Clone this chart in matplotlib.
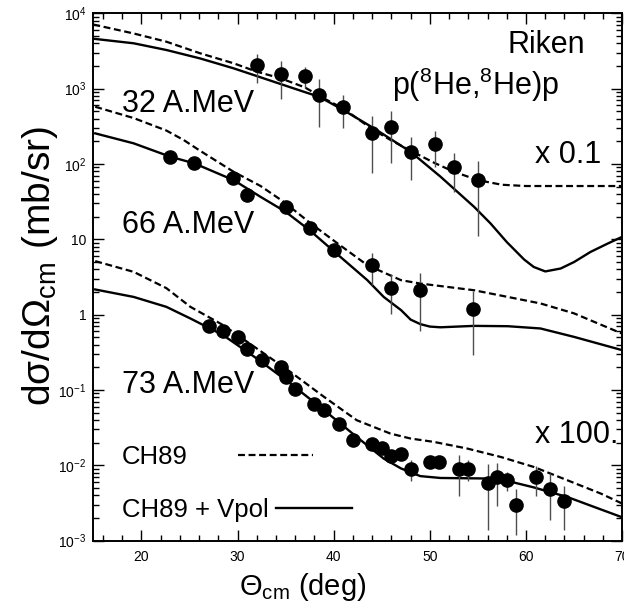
import matplotlib
matplotlib.use('Agg')
import matplotlib.pyplot as plt
from matplotlib.ticker import LogLocator, MultipleLocator, FuncFormatter, NullFormatter
import numpy as np

plt.rcParams['font.family'] = ['Liberation Sans', 'DejaVu Sans']
plt.rcParams['lines.scale_dashes'] = False

# measured points (values as drawn: 32 A.MeV x 0.1, 73 A.MeV x 100)
ang32 = [32.0, 34.5, 37.0, 38.5, 41.0, 44.0, 46.0, 48.0, 50.5, 52.5, 55.0]
xs32 = [2050, 1550, 1470, 820, 565, 255, 306, 143, 184, 92, 61]
err32 = [860, 810, 450, 510, 260, 180, 204, 82, 92, 50, 50]

ang66 = [23.0, 25.5, 29.5, 31.0, 35.0, 37.5, 40.0, 44.0, 46.0, 49.0, 54.5]
xs66 = [124, 102, 66, 38.6, 26.5, 14.2, 7.2, 4.5, 2.23, 2.11, 1.19]
err66 = [0, 0, 0, 0, 0, 0, 1.2, 2.0, 1.2, 1.5, 0.9]

ang73 = [27.0, 28.5, 30.0, 31.0, 32.5, 34.5, 35.0, 36.0, 38.0, 39.0, 40.5, 42.0, 44.0, 45.0,
         46.0, 47.0, 48.0, 50.0, 51.0, 53.0, 54.0, 56.0, 57.0, 58.0, 59.0, 61.0, 62.5, 64.0]
xs73 = [0.70, 0.60, 0.51, 0.35, 0.25, 0.20, 0.149, 0.102, 0.065, 0.055, 0.035, 0.022, 0.019, 0.0172,
        0.0132, 0.0140, 0.0089, 0.0110, 0.0110, 0.0089, 0.0089, 0.0059, 0.0069, 0.0063, 0.0030, 0.0069, 0.0049, 0.0034]
err73 = [0, 0, 0, 0, 0, 0, 0, 0, 0, 0, 0, 0, 0, 0,
         0, 0, 0.0027, 0, 0, 0.005, 0.0027, 0.0045, 0.004, 0.0018, 0.0018, 0.003, 0.003, 0.002]

# calculations: CH89 (dashed) and CH89 + Vpol (solid)
ch_ang32 = [15, 19.2, 22.6, 26.1, 29.6, 32.0, 34.5, 37.0, 39.0, 41.0, 44.0, 46.0, 48.0, 50.5,
            52.5, 55.0, 57.5, 60.0, 65.0, 70.0]
ch32 = [7100, 5400, 4200, 2950, 2170, 1680, 1370, 1040, 740, 545, 290, 205, 150, 103,
        79, 61, 53, 51, 51, 51]
vp_ang32 = [15, 19.2, 22.6, 26.1, 29.6, 32.0, 34.5, 37.0, 38.5, 41.0, 44.2, 48.0, 51.1, 54.6,
            56.3, 58.0, 59.8, 60.8, 62.0, 63.6, 65.0, 66.7, 68.5, 70.0]
vp32 = [4600, 4000, 3260, 2520, 1860, 1470, 1150, 900, 780, 520, 297, 145, 68, 27,
        16.3, 9.2, 5.4, 4.3, 3.75, 4.1, 5.0, 6.8, 8.8, 10.8]

ch_ang66 = [15.2, 19.2, 22.6, 24.4, 26.1, 29.6, 32.4, 34.8, 37.6, 40.4, 43.5, 47.0, 49.0, 54.6,
            58.1, 61.5, 65.0, 70.0]
ch66 = [575, 407, 278, 208, 150, 78.7, 51, 31.5, 16.3, 8.83, 4.54, 2.87, 2.59, 2.11,
        1.72, 1.41, 1.04, 0.56]
vp_ang66 = [15.2, 19.2, 23.0, 25.5, 29.6, 32.4, 35.0, 37.5, 40.0, 43.5, 45.2, 47.0, 48.0, 49.0,
            50.0, 51.1, 54.6, 58.1, 61.5, 65.0, 70.0]
vp66 = [255, 188, 125, 102, 61, 36.6, 23.2, 13.2, 6.97, 2.87, 1.72, 1.15, 0.86, 0.75,
        0.695, 0.68, 0.71, 0.703, 0.656, 0.507, 0.338]

ch_ang73 = [15.2, 19.2, 22.6, 25.1, 28.5, 32.0, 35.5, 39.0, 42.4, 45.9, 48.0, 50.4, 53.9, 57.4,
            60.8, 64.3, 67.8, 70.0]
ch73 = [5.14, 3.70, 2.25, 1.27, 0.727, 0.356, 0.174, 0.081, 0.0397, 0.0264, 0.0227, 0.0205, 0.0167, 0.0129,
        0.00953, 0.00634, 0.00421, 0.00311]
vp_ang73 = [15.2, 19.2, 22.6, 25.1, 28.5, 32.0, 35.5, 39.0, 42.4, 45.2, 47.0, 49.0, 51.1, 55.6,
            58.1, 60.8, 64.3, 67.1, 70.2]
vp73 = [2.16, 1.72, 1.27, 0.89, 0.535, 0.262, 0.122, 0.054, 0.0238, 0.0123, 0.0091, 0.0072, 0.0068, 0.0067,
        0.0062, 0.0051, 0.0038, 0.0028, 0.0020]

fig = plt.figure(figsize=(6.24, 6.08), dpi=100)
ax = fig.add_axes([0.1495, 0.1107, 0.8476, 0.8674])
ax.set_yscale('log')
ax.set_xlim(15, 70)
ax.set_ylim(1e-3, 1e4)

dashed = (0, (5, 2.6))
for a, v in [(ch_ang32, ch32), (ch_ang66, ch66), (ch_ang73, ch73)]:
    l_ch, = ax.plot(a, v, color='black', lw=1.6, ls=dashed)
for a, v in [(vp_ang32, vp32), (vp_ang66, vp66), (vp_ang73, vp73)]:
    l_vp, = ax.plot(a, v, color='black', lw=1.7)

for a, v, e in [(ang32, xs32, err32), (ang66, xs66, err66), (ang73, xs73, err73)]:
    ax.errorbar(a, v, yerr=e, fmt='o', color='black', ms=9.5, ecolor='0.3',
                elinewidth=1.0, capsize=0, zorder=3)

# axes / ticks, ROOT look
for s in ax.spines.values():
    s.set_linewidth(1.4)
ax.xaxis.set_major_locator(MultipleLocator(10))
ax.xaxis.set_minor_locator(MultipleLocator(2))
ax.yaxis.set_major_locator(LogLocator(base=10, numticks=20))
ax.yaxis.set_minor_locator(LogLocator(base=10, subs=np.arange(2, 10), numticks=20))
ax.yaxis.set_minor_formatter(NullFormatter())


def ylab(v, pos):
    e = int(round(np.log10(v)))
    if e == 0:
        return '1'
    if e == 1:
        return '10'
    return r'$\mathregular{10^{%d}}$' % e


ax.yaxis.set_major_formatter(FuncFormatter(ylab))
ax.tick_params(which='both', direction='in', top=True, right=True, width=1.0)
ax.tick_params(which='major', length=8)
ax.tick_params(which='minor', length=4)
ax.tick_params(axis='x', pad=7, labelsize=10)
ax.tick_params(axis='y', pad=5, labelsize=10)

fig.text(0.064, 0.562, r'$\mathregular{d\sigma/d\Omega_{cm}\ (mb/sr)}$', rotation=90,
         ha='center', va='center', fontsize=28)
fig.text(0.4856, 0.0214, r'$\mathregular{\Theta_{cm}}$ (deg)', ha='center', va='baseline', fontsize=21)

ax.text(0.0537, 0.813, '32 A.MeV', transform=ax.transAxes, fontsize=22, va='baseline')
ax.text(0.0537, 0.583, '66 A.MeV', transform=ax.transAxes, fontsize=22, va='baseline')
ax.text(0.0537, 0.280, '73 A.MeV', transform=ax.transAxes, fontsize=22, va='baseline')
ax.text(0.9296, 0.924, 'Riken', transform=ax.transAxes, fontsize=22, va='baseline', ha='right')
ax.text(0.5644, 0.846, r'p($\mathregular{^{8}}$He,$\mathregular{^{8}}$He)p', transform=ax.transAxes,
        fontsize=22, va='baseline')
ax.text(0.8354, 0.7156, 'x 0.1', transform=ax.transAxes, fontsize=22, va='baseline')
ax.text(0.8354, 0.1847, 'x 100.', transform=ax.transAxes, fontsize=22, va='baseline')

leg1 = ax.legend([l_ch], ['CH89'], loc='center left', bbox_to_anchor=(0.0537, 0.159),
                 markerfirst=False, frameon=False, fontsize=18.5, handlelength=2.95,
                 handletextpad=1.95, borderpad=0, borderaxespad=0)
ax.add_artist(leg1)
ax.legend([l_vp], ['CH89 + Vpol'], loc='center left', bbox_to_anchor=(0.0537, 0.058),
          markerfirst=False, frameon=False, fontsize=18.5, handlelength=2.95,
          handletextpad=0.3, borderpad=0, borderaxespad=0)

fig.savefig('out.png', dpi=100)
